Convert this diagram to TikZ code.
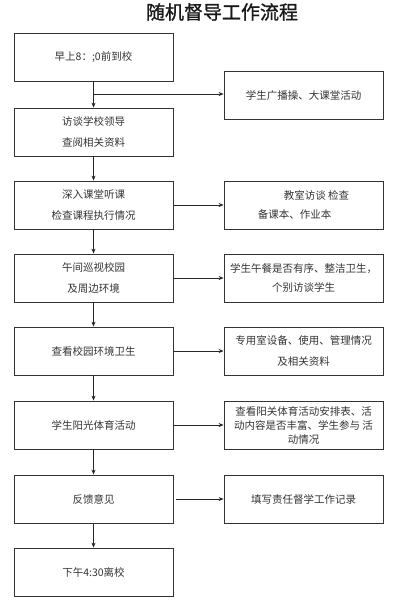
\documentclass[tikz,border=0pt]{standalone}
\usepackage{fontspec}
\newfontfamily\cjk{Noto Sans CJK SC}
\newfontfamily\cjktitle[FakeBold=1.2]{Noto Sans CJK SC}
\usetikzlibrary{arrows.meta,calc}
\begin{document}
\begin{tikzpicture}[x=1pt,y=-1pt,
  box/.style={draw=black!80,line width=0.8pt,minimum width=159pt,minimum height=48pt,inner sep=0pt,text=black!80,align=center,font={\cjk\fontsize{10.5}{21}\selectfont}},
  conn/.style={draw=black!85,line width=0.7pt,-{Stealth[length=5pt,width=4pt]}}]
\useasboundingbox (0,0) rectangle (407,600);
\node[font={\cjktitle\fontsize{19}{19}\selectfont},text=black!90] (title) at (222,12) {随机督导工作流程};
% left column
\node[box] (a1) at (93.5,57) {早上8：;0前到校};
\node[box] (a2) at (93.5,132) {访谈学校领导\\查阅相关资料};
\node[box] (a3) at (93.5,205) {深入课堂听课\\检查课程执行情况};
\node[box] (a4) at (93.5,278) {午间巡视校园\\及周边环境};
\node[box] (a5) at (93.5,351) {查看校园环境卫生};
\node[box] (a6) at (93.5,425) {学生阳光体育活动};
\node[box] (a7) at (93.5,499) {反馈意见};
\node[box] (a8) at (93.5,572) {下午4:30离校};
% right column
\node[box] (b1) at (303.5,95.5) {学生广播操、大课堂活动};
\node[box,font={\cjk\fontsize{10.5}{19}\selectfont}] (b2) at (303.5,205) {\begin{tabular}{@{}l@{}}\hspace*{26pt}教室访谈\ 检查\\备课本、作业本\end{tabular}};
\node[box,font={\cjk\fontsize{10.5}{19}\selectfont}] (b3) at (303.5,278) {学生午餐是否有序、整洁卫生，\\个别访谈学生};
\node[box] (b4) at (303.5,351) {专用室设备、使用、管理情况\\及相关资料};
\node[box,font={\cjk\fontsize{10.5}{14}\selectfont}] (b5) at (303.5,425) {查看阳关体育活动安排表、活\\动内容是否丰富、学生参与\ 活\\动情况};
\node[box] (b6) at (303.5,499) {填写责任督学工作记录};
% vertical connectors
\draw[conn] (a1) -- (a2);
\draw[conn] (a2) -- (a3);
\draw[conn] (a3) -- (a4);
\draw[conn] (a4) -- (a5);
\draw[conn] (a5) -- (a6);
\draw[conn] (a6) -- (a7);
\draw[conn] (a7) -- (a8);
% horizontal connectors
\coordinate (j1) at (93.5,94);
\draw[conn] (j1) -- (j1 -| b1.west);
\draw[conn] (a3) -- (b2);
\draw[conn] (a4) -- (b3);
\draw[conn] (a5) -- (b4);
\draw[conn] (a6) -- (b5);
\draw[conn,shorten <=3pt] (a7) -- (b6);
\end{tikzpicture}
\end{document}
